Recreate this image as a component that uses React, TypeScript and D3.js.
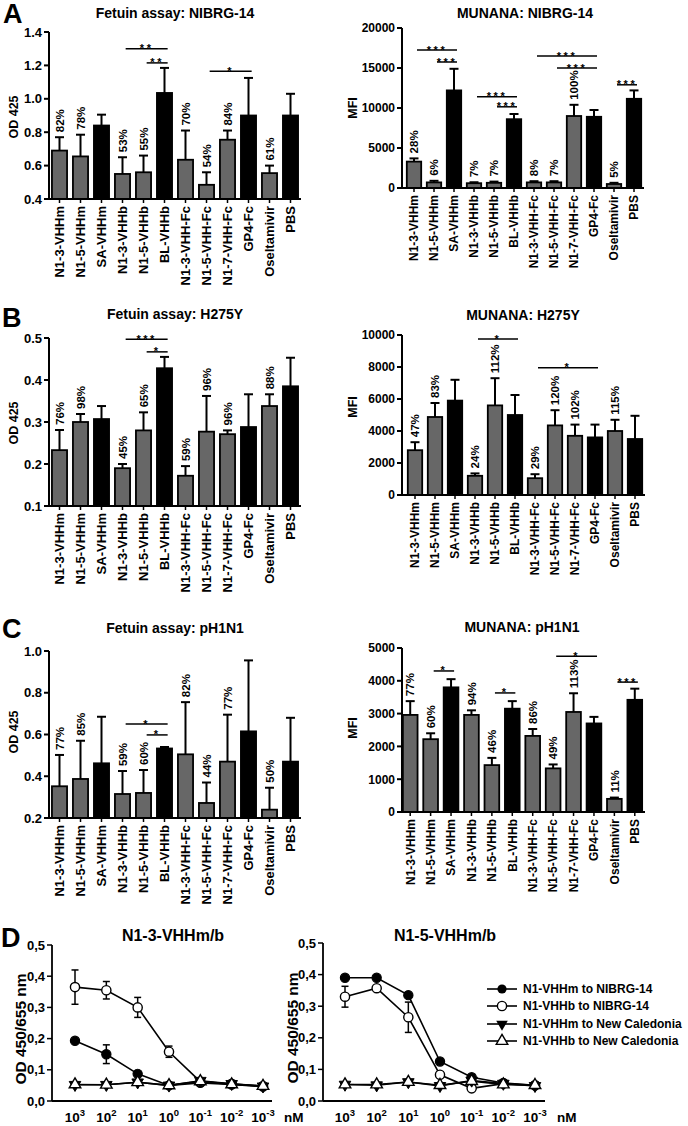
import React from 'react';
import * as d3 from 'd3';

const FONT = "'Liberation Sans', Arial, Helvetica, sans-serif";
const GREY = '#676767';

// ---------- shared categories ----------
const categories = ['N1-3-VHHm', 'N1-5-VHHm', 'SA-VHHm', 'N1-3-VHHb', 'N1-5-VHHb', 'BL-VHHb', 'N1-3-VHH-Fc', 'N1-5-VHH-Fc', 'N1-7-VHH-Fc', 'GP4-Fc', 'Oseltamivir', 'PBS'];
const blackBars = [false, false, true, false, false, true, false, false, false, true, false, true];

// ---------- A: NIBRG-14 ----------
const fetuinNibrgMean = [0.69, 0.655, 0.84, 0.55, 0.56, 1.035, 0.635, 0.485, 0.755, 0.9, 0.555, 0.9];
const fetuinNibrgSd = [0.08, 0.13, 0.065, 0.1, 0.1, 0.15, 0.175, 0.075, 0.055, 0.225, 0.045, 0.13];
const fetuinNibrgPct = ['82%', '78%', '', '53%', '55%', '', '70%', '54%', '84%', '', '61%', ''];
const fetuinNibrgSig = [
  { from: 3, to: 5, y: 1.3, stars: '**' },
  { from: 4, to: 5, y: 1.215, stars: '**' },
  { from: 7, to: 9, y: 1.165, stars: '*' },
];

const munanaNibrgMean = [3300, 700, 12200, 600, 650, 8600, 700, 700, 9000, 8900, 500, 11150];
const munanaNibrgSd = [400, 200, 2700, 120, 150, 650, 150, 150, 1400, 850, 150, 1050];
const munanaNibrgPct = ['28%', '6%', '', '7%', '7%', '', '8%', '7%', '100%', '', '5%', ''];
const munanaNibrgSig = [
  { from: 0, to: 2, y: 17250, stars: '***' },
  { from: 1, to: 2, y: 15750, stars: '***' },
  { from: 3, to: 5, y: 11400, stars: '***' },
  { from: 4, to: 5, y: 10150, stars: '***' },
  { from: 6, to: 9, y: 16500, stars: '***' },
  { from: 7, to: 9, y: 15000, stars: '***' },
  { from: 10, to: 11, y: 12900, stars: '***' },
];

// ---------- B: H275Y ----------
const fetuinH275Mean = [0.233, 0.3, 0.307, 0.19, 0.28, 0.428, 0.172, 0.277, 0.271, 0.288, 0.338, 0.385];
const fetuinH275Sd = [0.048, 0.019, 0.031, 0.01, 0.043, 0.027, 0.023, 0.085, 0.009, 0.078, 0.028, 0.068];
const fetuinH275Pct = ['76%', '98%', '', '45%', '65%', '', '59%', '96%', '96%', '', '88%', ''];
const fetuinH275Sig = [
  { from: 3, to: 5, y: 0.497, stars: '***' },
  { from: 4, to: 5, y: 0.467, stars: '*' },
];

const munanaH275Mean = [2800, 4875, 5900, 1200, 5600, 5000, 1050, 4350, 3700, 3600, 4000, 3500];
const munanaH275Sd = [500, 875, 1300, 150, 1700, 1250, 250, 950, 700, 800, 700, 1450];
const munanaH275Pct = ['47%', '83%', '', '24%', '112%', '', '29%', '120%', '102%', '', '115%', ''];
const munanaH275Sig = [
  { from: 3, to: 5, y: 9750, stars: '*' },
  { from: 6, to: 9, y: 7950, stars: '*' },
];

// ---------- C: pH1N1 ----------
const fetuinPh1Mean = [0.352, 0.387, 0.462, 0.315, 0.32, 0.533, 0.505, 0.272, 0.47, 0.615, 0.24, 0.47];
const fetuinPh1Sd = [0.15, 0.183, 0.223, 0.11, 0.11, 0.007, 0.25, 0.098, 0.225, 0.34, 0.105, 0.21];
const fetuinPh1Pct = ['77%', '85%', '', '59%', '60%', '', '82%', '44%', '77%', '', '50%', ''];
const fetuinPh1Sig = [
  { from: 3, to: 5, y: 0.65, stars: '*' },
  { from: 4, to: 5, y: 0.598, stars: '*' },
];

const munanaPh1Mean = [2960, 2220, 3800, 2960, 1430, 3150, 2320, 1330, 3050, 2700, 400, 3420];
const munanaPh1Sd = [420, 180, 250, 140, 220, 230, 210, 120, 570, 200, 40, 340];
const munanaPh1Pct = ['77%', '60%', '', '94%', '46%', '', '86%', '49%', '113%', '', '11%', ''];
const munanaPh1Sig = [
  { from: 1, to: 2, y: 4300, stars: '*' },
  { from: 4, to: 5, y: 3630, stars: '*' },
  { from: 7, to: 9, y: 4750, stars: '*' },
  { from: 10, to: 11, y: 3960, stars: '***' },
];

// ---------- D: dose response ----------
const concExponents = ['3', '2', '1', '0', '-1', '-2', '-3'];
const seriesNames = ['N1-VHHm to NIBRG-14', 'N1-VHHb to NIBRG-14', 'N1-VHHm to New Caledonia', 'N1-VHHb to New Caledonia'];

const n13_mNibrg = [0.193, 0.15, 0.087, 0.05, 0.058, 0.053, 0.046];
const n13_mNibrgErr = [0, 0.03, 0, 0, 0, 0, 0];
const n13_bNibrg = [0.365, 0.355, 0.3, 0.158, 0.062, 0.055, 0.048];
const n13_bNibrgErr = [0.055, 0.028, 0.032, 0.018, 0, 0, 0];
const n13_mNC = [0.052, 0.052, 0.06, 0.05, 0.065, 0.055, 0.047];
const n13_bNC = [0.053, 0.052, 0.06, 0.05, 0.063, 0.053, 0.048];

const n15_mNibrg = [0.39, 0.39, 0.335, 0.125, 0.075, 0.057, 0.05];
const n15_mNibrgErr = [0, 0, 0, 0, 0, 0, 0];
const n15_bNibrg = [0.33, 0.357, 0.265, 0.083, 0.04, 0.055, 0.05];
const n15_bNibrgErr = [0.033, 0, 0.048, 0, 0, 0, 0];
const n15_mNC = [0.052, 0.05, 0.06, 0.048, 0.065, 0.055, 0.048];
const n15_bNC = [0.052, 0.052, 0.06, 0.05, 0.063, 0.052, 0.05];

const yTicksD = [0, 0.1, 0.2, 0.3, 0.4, 0.5];

// ---------- components ----------
type Sig = { from: number; to: number; y: number; stars: string };
type BarProps = {
  means: number[]; sds: number[]; pct: string[]; sig: Sig[];
  domain: [number, number]; tickStep: number; fmt: (v: number) => string;
  axisX: number; bandStart: number; xEnd: number; yBottom: number; yTop: number;
  title: string; titleX: number; titleY: number;
  ylabel: string; ylabelX: number; ylabelY: number; fs: number;
};

function BarChart(p: BarProps) {
  const x = d3.scaleBand<string>().domain(categories).range([p.bandStart, p.xEnd]).paddingInner(0.28).paddingOuter(0.14);
  const y = d3.scaleLinear().domain(p.domain).range([p.yBottom, p.yTop]);
  const ticks = d3.range(p.domain[0], p.domain[1] + p.tickStep / 2, p.tickStep);
  const bw = x.bandwidth();
  const off = x.step() * 0.15;
  return (
    <g fontFamily={FONT} fontWeight="bold">
      <text x={p.titleX} y={p.titleY} textAnchor="middle" fontSize={14}>{p.title}</text>
      <text transform={`translate(${p.ylabelX},${p.ylabelY}) rotate(-90)`} textAnchor="middle" dy="0.35em" fontSize={12.5}>{p.ylabel}</text>
      {categories.map((c, i) => {
        const cx = x(c)! + bw / 2;
        const top = y(p.means[i]);
        const errTop = y(p.means[i] + p.sds[i]);
        return (
          <g key={c}>
            <line x1={cx} x2={cx} y1={top} y2={errTop} stroke="#000" strokeWidth={2} />
            <line x1={cx - 4.5} x2={cx + 4.5} y1={errTop} y2={errTop} stroke="#000" strokeWidth={2} />
            <rect x={x(c)!} y={top} width={bw} height={p.yBottom - top} fill={blackBars[i] ? '#000' : GREY} stroke="#000" strokeWidth={1.8} />
            {p.pct[i] && (
              <text transform={`translate(${cx},${errTop - 5}) rotate(-90)`} dy="0.36em" fontSize={11.5}>{p.pct[i]}</text>
            )}
            <line x1={cx} x2={cx} y1={p.yBottom} y2={p.yBottom + 4} stroke="#000" strokeWidth={1.5} />
            <text transform={`translate(${cx},${p.yBottom + 7}) rotate(-90)`} textAnchor="end" dy="0.36em" fontSize={p.fs}>{c}</text>
          </g>
        );
      })}
      {p.sig.map((s, k) => {
        const x1 = x(categories[s.from])! + bw / 2 + off;
        const x2 = x(categories[s.to])! + bw / 2 + off;
        const yy = y(s.y);
        return (
          <g key={k}>
            <line x1={x1} x2={x2} y1={yy} y2={yy} stroke="#000" strokeWidth={1.5} />
            <text x={(x1 + x2) / 2} y={yy + 3.5} textAnchor="middle" fontSize={11} letterSpacing={2.5}>{s.stars}</text>
          </g>
        );
      })}
      <line x1={p.axisX} x2={p.xEnd} y1={p.yBottom} y2={p.yBottom} stroke="#000" strokeWidth={2} />
      <line x1={p.axisX} x2={p.axisX} y1={p.yBottom} y2={p.yTop} stroke="#000" strokeWidth={2} />
      {ticks.map((t) => (
        <g key={t}>
          <line x1={p.axisX - 5} x2={p.axisX} y1={y(t)} y2={y(t)} stroke="#000" strokeWidth={2} />
          <text x={p.axisX - 7} y={y(t)} dy="0.36em" textAnchor="end" fontSize={p.fs}>{p.fmt(t)}</text>
        </g>
      ))}
    </g>
  );
}

type DoseProps = {
  mN: number[]; mNErr: number[]; bN: number[]; bNErr: number[]; mC: number[]; bC: number[];
  axisX: number; xEnd: number; ptStart: number; ptEnd: number; yBottom: number; yTop: number;
  title: string; titleX: number; ylabelX: number;
};

const triUp = d3.symbol().type(d3.symbolTriangle).size(58)()!;

function DoseChart(p: DoseProps) {
  const x = d3.scalePoint<string>().domain(concExponents).range([p.ptStart, p.ptEnd]);
  const y = d3.scaleLinear().domain([0, 0.5]).range([p.yBottom, p.yTop]);
  const line = d3.line<number>().x((_, i) => x(concExponents[i])!).y((d) => y(d));
  const fmt = (v: number) => d3.format('.1f')(v).replace('.', ',');
  const errBars = (vals: number[], errs: number[]) =>
    vals.map((v, i) => errs[i] > 0 ? (
      <g key={i}>
        <line x1={x(concExponents[i])} x2={x(concExponents[i])} y1={y(v - errs[i])} y2={y(v + errs[i])} stroke="#000" strokeWidth={1.5} />
        <line x1={x(concExponents[i])! - 3.5} x2={x(concExponents[i])! + 3.5} y1={y(v - errs[i])} y2={y(v - errs[i])} stroke="#000" strokeWidth={1.5} />
        <line x1={x(concExponents[i])! - 3.5} x2={x(concExponents[i])! + 3.5} y1={y(v + errs[i])} y2={y(v + errs[i])} stroke="#000" strokeWidth={1.5} />
      </g>
    ) : null);
  const mid = (p.yBottom + p.yTop) / 2;
  return (
    <g fontFamily={FONT} fontWeight="bold">
      <text x={p.titleX} y={941} textAnchor="middle" fontSize={16}>{p.title}</text>
      <text transform={`translate(${p.ylabelX},${mid + 6}) rotate(-90)`} textAnchor="middle" dy="0.36em" fontSize={15.5}>OD 450/655 nm</text>
      <line x1={p.axisX} x2={p.axisX} y1={p.yBottom} y2={p.yTop} stroke="#000" strokeWidth={1.8} />
      <line x1={p.axisX} x2={p.xEnd} y1={p.yBottom} y2={p.yBottom} stroke="#000" strokeWidth={1.8} />
      {yTicksD.map((t) => (
        <g key={t}>
          <line x1={p.axisX - 5} x2={p.axisX} y1={y(t)} y2={y(t)} stroke="#000" strokeWidth={1.5} />
          <text x={p.axisX - 7} y={y(t)} dy="0.36em" textAnchor="end" fontSize={13}>{fmt(t)}</text>
        </g>
      ))}
      {concExponents.map((e) => (
        <text key={e} x={x(e)} y={1122} textAnchor="middle" fontSize={13.5}>
          10<tspan dy={-6} fontSize={9.5}>{e}</tspan>
        </text>
      ))}
      <text x={p.xEnd + 12} y={1122} fontSize={13.5}>nM</text>
      {errBars(p.mN, p.mNErr)}
      {errBars(p.bN, p.bNErr)}
      {[p.mN, p.bN, p.mC, p.bC].map((s, k) => (
        <path key={k} d={line(s)!} fill="none" stroke="#000" strokeWidth={1.6} />
      ))}
      {p.mN.map((v, i) => <circle key={'a' + i} cx={x(concExponents[i])} cy={y(v)} r={4.6} fill="#000" stroke="#000" strokeWidth={1.2} />)}
      {p.bN.map((v, i) => <circle key={'b' + i} cx={x(concExponents[i])} cy={y(v)} r={4.6} fill="#fff" stroke="#000" strokeWidth={1.4} />)}
      {p.mC.map((v, i) => <path key={'c' + i} d={triUp} transform={`translate(${x(concExponents[i])},${y(v)}) rotate(180)`} fill="#000" stroke="#000" strokeWidth={1} />)}
      {p.bC.map((v, i) => <path key={'d' + i} d={triUp} transform={`translate(${x(concExponents[i])},${y(v)})`} fill="#fff" stroke="#000" strokeWidth={1.4} />)}
    </g>
  );
}

function Legend({ x0, rows }: { x0: number; rows: number[] }) {
  return (
    <g fontFamily={FONT} fontWeight="bold" fontSize={12}>
      {seriesNames.map((n, i) => {
        const cy = rows[i];
        const mx = x0 + 15;
        return (
          <g key={n}>
            <line x1={x0} x2={x0 + 30} y1={cy} y2={cy} stroke="#000" strokeWidth={1.6} />
            {i === 0 && <circle cx={mx} cy={cy} r={4.6} fill="#000" />}
            {i === 1 && <circle cx={mx} cy={cy} r={4.6} fill="#fff" stroke="#000" strokeWidth={1.4} />}
            {i === 2 && <path d={triUp} transform={`translate(${mx},${cy}) rotate(180)`} fill="#000" />}
            {i === 3 && <path d={triUp} transform={`translate(${mx},${cy})`} fill="#fff" stroke="#000" strokeWidth={1.4} />}
            <text x={x0 + 36} y={cy} dy="0.36em">{n}</text>
          </g>
        );
      })}
    </g>
  );
}

const f1 = (v: number) => d3.format('.1f')(v);
const fd = (v: number) => d3.format('d')(v);

export default function App() {
  return (
    <svg width={688} height={1126} style={{ position: 'absolute', left: 0, top: 0, background: '#fff' }}>
      <rect width={688} height={1126} fill="#fff" />
      <g fontFamily={FONT} fontWeight="bold" fontSize={27}>
        <text x={3} y={23}>A</text>
        <text x={2} y={327}>B</text>
        <text x={2} y={638}>C</text>
        <text x={1} y={947}>D</text>
      </g>
      <BarChart means={fetuinNibrgMean} sds={fetuinNibrgSd} pct={fetuinNibrgPct} sig={fetuinNibrgSig}
        domain={[0.4, 1.4]} tickStep={0.2} fmt={f1} axisX={49} bandStart={49} xEnd={301} yBottom={199} yTop={32}
        title="Fetuin assay: NIBRG-14" titleX={175} titleY={18} ylabel="OD 425" ylabelX={14} ylabelY={117} fs={13} />
      <BarChart means={munanaNibrgMean} sds={munanaNibrgSd} pct={munanaNibrgPct} sig={munanaNibrgSig}
        domain={[0, 20000]} tickStep={5000} fmt={fd} axisX={402} bandStart={404} xEnd={644} yBottom={188} yTop={28}
        title="MUNANA: NIBRG-14" titleX={525} titleY={18} ylabel="MFI" ylabelX={353} ylabelY={108} fs={12} />
      <BarChart means={fetuinH275Mean} sds={fetuinH275Sd} pct={fetuinH275Pct} sig={fetuinH275Sig}
        domain={[0.1, 0.5]} tickStep={0.1} fmt={f1} axisX={49} bandStart={49} xEnd={301} yBottom={506} yTop={338}
        title="Fetuin assay: H275Y" titleX={175} titleY={319} ylabel="OD 425" ylabelX={14} ylabelY={423} fs={13} />
      <BarChart means={munanaH275Mean} sds={munanaH275Sd} pct={munanaH275Pct} sig={munanaH275Sig}
        domain={[0, 10000]} tickStep={2000} fmt={fd} axisX={402} bandStart={405} xEnd={645} yBottom={495} yTop={335}
        title="MUNANA: H275Y" titleX={523} titleY={320} ylabel="MFI" ylabelX={353} ylabelY={407} fs={12} />
      <BarChart means={fetuinPh1Mean} sds={fetuinPh1Sd} pct={fetuinPh1Pct} sig={fetuinPh1Sig}
        domain={[0.2, 1.0]} tickStep={0.2} fmt={f1} axisX={49} bandStart={49} xEnd={301} yBottom={818} yTop={651}
        title="Fetuin assay: pH1N1" titleX={175} titleY={633} ylabel="OD 425" ylabelX={14} ylabelY={732} fs={13} />
      <BarChart means={munanaPh1Mean} sds={munanaPh1Sd} pct={munanaPh1Pct} sig={munanaPh1Sig}
        domain={[0, 5000]} tickStep={1000} fmt={fd} axisX={402} bandStart={400} xEnd={645} yBottom={812} yTop={648}
        title="MUNANA: pH1N1" titleX={522} titleY={632} ylabel="MFI" ylabelX={353} ylabelY={728} fs={12} />
      <DoseChart mN={n13_mNibrg} mNErr={n13_mNibrgErr} bN={n13_bNibrg} bNErr={n13_bNibrgErr} mC={n13_mNC} bC={n13_bNC}
        axisX={52} xEnd={272} ptStart={75} ptEnd={263} yBottom={1101} yTop={945}
        title="N1-3-VHHm/b" titleX={173} ylabelX={20} />
      <DoseChart mN={n15_mNibrg} mNErr={n15_mNibrgErr} bN={n15_bNibrg} bNErr={n15_bNibrgErr} mC={n15_mNC} bC={n15_bNC}
        axisX={323} xEnd={545} ptStart={345} ptEnd={535} yBottom={1101} yTop={943}
        title="N1-5-VHHm/b" titleX={445} ylabelX={292} />
      <Legend x0={487} rows={[989, 1006, 1024, 1041]} />
    </svg>
  );
}
